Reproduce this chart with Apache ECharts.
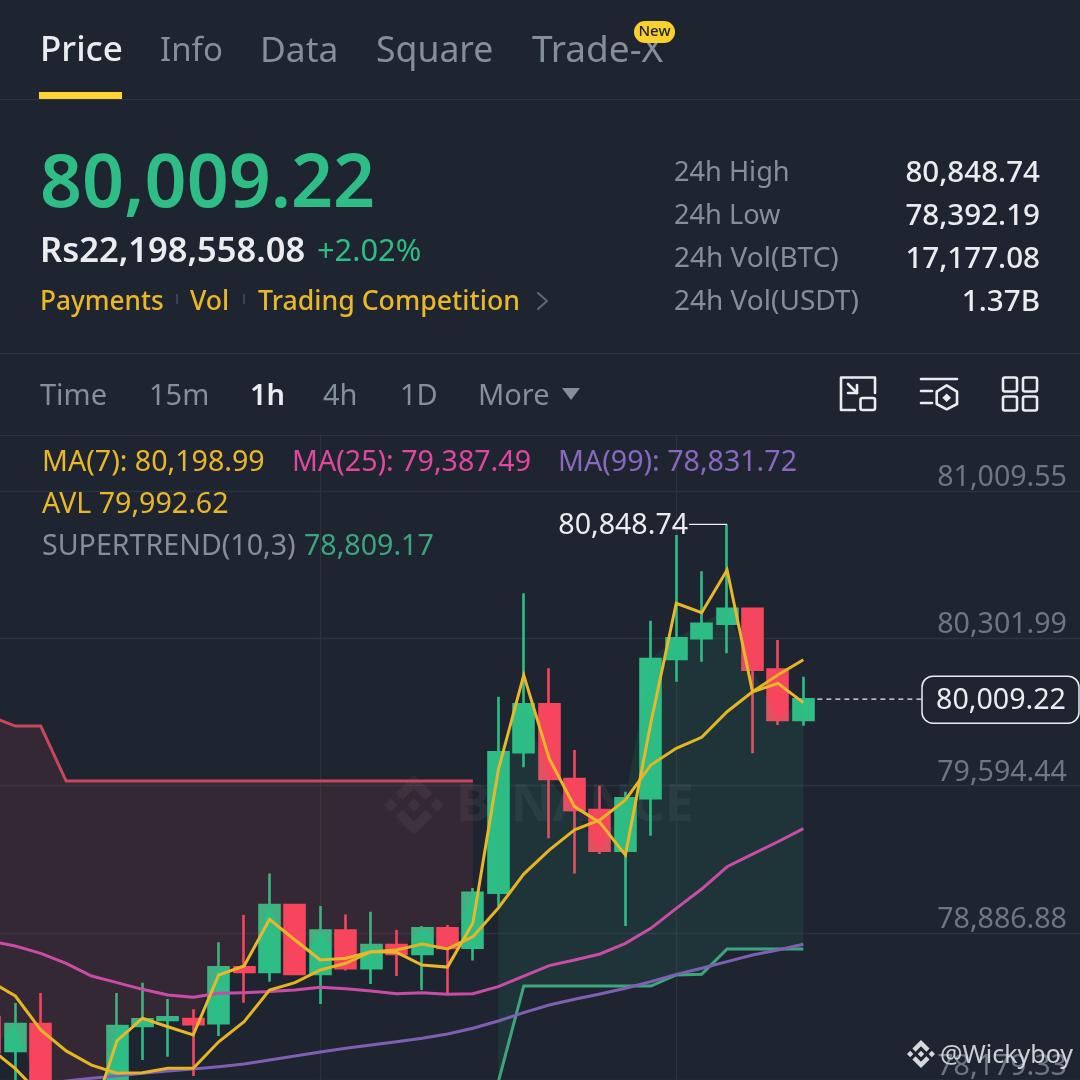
<!DOCTYPE html>
<html><head><meta charset="utf-8">
<style>html,body{margin:0;padding:0;background:#1E2530}#c{width:1080px;height:1080px}</style>
<script src="https://cdn.jsdelivr.net/npm/echarts@6/dist/echarts.min.js"></script>
</head><body><div id="c"></div>
<script>
const slots = 44;
const yTicks = [78179.33, 78886.88, 79594.44, 80301.99, 81009.55];
// [open, close, low, high]
const candles = [
[78482,78314,78275,78540],[78319,78448,78155,78549],[78448,78107,78059,78597],[78107,77987,77939,78131],
[77987,78035,77900,78131],[78035,78439,77990,78597],[78439,78471,78275,78647],[78468,78481,78291,78569],
[78472,78448,78199,78519],[78452,78721,78391,78841],[78721,78698,78551,78972],[78698,79020,78652,79172],
[79020,78689,78689,79025],[78689,78897,78545,79015],[78897,78716,78705,78975],[78716,78828,78641,78988],
[78828,78785,78679,78900],[78785,78908,78612,78919],[78908,78814,78597,78924],[78815,79079,78753,79102],
[79079,79754,79015,80021],[79754,79985,79682,80518],[79985,79626,79341,80158],[79626,79477,79172,79765],
[79477,79281,79265,79593],[79281,79533,78919,79565],[79533,80202,79353,80386],[80202,80302,80093,80798],
[80302,80372,80189,80624],[80372,80443,80230,80848.74],[80443,80151,79749,80443],[80151,79909,79885,80294],
[79909,80009.22,79882,80117]];
const avl = [78333,78234,78107,77987,77998,78368,78476,78435,78396,78684,78727,78951,78852,78756,78764,78796,78793,78732,78722,78934,79669,80125,79725,79493,79416,79260,79895,80470,80425,80630,80045,80085,79992.62];
const ma7 = [78655,78583,78420,78319,78251,78212,78214,78236,78236,78363,78459,78612,78647,78708,78740,78796,78804,78833,78809,78868,79006,79169,79284,79381,79429,79525,79693,79773,79826,79949,80045,80125,80198.99];
const ma25 = [78847,78823,78788,78740,78679,78647,78615,78588,78577,78596,78599,78604,78612,78625,78618,78607,78594,78599,78591,78594,78628,78679,78729,78756,78785,78836,78908,79004,79097,79204,79265,79324,79387.49];
const ma99 = [78131,78141,78155,78175,78188,78199,78212,78223,78232,78243,78256,78275,78295,78314,78332,78347,78363,78380,78400,78428,78463,78503,78540,78567,78593,78620,78652,78687,78716,78748,78780,78804,78831.72];
const superRed = [79928,79880,79880,79616,79616,79616,79616,79616,79616,79616,79616,79616,79616,79616,79616,79616,79616,79616,79616,79616];
const superGreen = [78170,78631,78631,78631,78631,78631,78631,78684,78687,78809.17,78809.17,78809.17,78809.17];
const greenStart = 20;

const F = '"Noto Sans", sans-serif';
const BG = '#1E2530', UP = '#2EBD85', DOWN = '#F6465D', GOLD = '#E9B72A', GREY = '#848E9C', WHITE = '#EAECEF';
const cats = Array.from({length: slots}, (_, i) => 'c' + i);
const closes = candles.map(c => c[1]);
const redLine = closes.map((_, i) => i < superRed.length ? superRed[i] : '-');
const greenLine = closes.map((_, i) => i >= greenStart ? superGreen[i - greenStart] : '-');
const redBase = closes.map((c, i) => i < superRed.length ? c : '-');
const redBand = closes.map((c, i) => i < superRed.length ? superRed[i] - c : '-');
const greenBase = greenLine;
const greenBand = closes.map((c, i) => i >= greenStart ? c - superGreen[i - greenStart] : '-');
const highIndex = 29, lastIndex = candles.length - 1;

function line(name, data, color, w) {
  return {name, type:'line', data, symbol:'none', z:5, silent:true,
    lineStyle:{color, width:w||3, join:'miter'}, animation:false};
}
function bandBase(stack, data) {
  return {type:'line', stack, data, symbol:'none', z:3, silent:true, lineStyle:{width:0, opacity:0}, animation:false};
}
function band(stack, data, color) {
  return {type:'line', stack, data, symbol:'none', z:3, silent:true, lineStyle:{width:0, opacity:0}, areaStyle:{color, opacity:1}, animation:false};
}
function T(text, x, y, size, fill, weight, align) {
  return {type:'text', z:20, silent:true, style:{text, x, y:y+1.5, fill, align:align||'left', verticalAlign:'middle',
    font:(weight||400)+' '+size+'px '+F}};
}
function R(x, y, w, h, fill, r) {
  return {type:'rect', z:20, silent:true, shape:{x, y, width:w, height:h, r:r||0}, style:{fill}};
}
function P(points, stroke, w, closed) {
  return {type:closed?'polygon':'polyline', z:20, silent:true, shape:{points},
    style:{stroke, lineWidth:w||2.6, fill:null, lineJoin:'round', lineCap:'round'}};
}
function box(x, y, w, h, r) {
  return {type:'rect', z:20, silent:true, shape:{x, y, width:w, height:h, r:r||0},
    style:{stroke:WHITE, lineWidth:2.6, fill:null}};
}
const logoPath = 'M16.624 13.9202l2.7175 2.7154-7.353 7.353-7.353-7.352 2.7175-2.7164 4.6355 4.6595 4.6356-4.6595zm4.6366-4.6366L24 12l-2.7154 2.7164L18.5682 12l2.6924-2.7164zm-9.272.001l2.7163 2.6914-2.7164 2.7174v-.001L9.2721 12l2.7164-2.7154zm-9.2722-.001L5.4088 12l-2.6914 2.6924L0 12l2.7164-2.7164zM11.9885.0115l7.353 7.329-2.7174 2.7154-4.6356-4.6356-4.6355 4.6595-2.7174-2.7154 7.353-7.353z';
const graphics = [
  T('Price',40,50,35,WHITE,500), T('Info',160,50,33,GREY), T('Data',260,50,35.4,GREY), T('Square',376,50,35.6,GREY), T('Trade-X',532,50,37,GREY),
  R(634,21,41,22,'#F8D12F',11), T('New',654.5,30.5,15,'#1E2329',500,'center'),
  R(39,92,83,7,'#FCD535',0), R(0,99,1080,1,'#2B3340'),
  T('80,009.22',40,185,73.5,UP,600),
  T('Rs22,198,558.08',40,251,34.5,WHITE,600), T('+2.02%',317,251,30.8,UP,400),
  T('Payments',40,301,26.2,GOLD,500), T('Vol',190,301,26.6,GOLD,500), T('Trading Competition',258,301,26.7,GOLD,500),
  R(176,294,2,10,'#3A4350'), R(243,294,2,10,'#3A4350'),
  P([[538,293],[547,301],[538,309]],'#5E6673',2.2),
  T('24h High',674,172,27.2,GREY), T('24h Low',674,215,27.2,GREY), T('24h Vol(BTC)',674,258,28,GREY), T('24h Vol(USDT)',674,301,28,GREY),
  T('80,848.74',1040,172,29.6,WHITE,500,'right'), T('78,392.19',1040,215,29.6,WHITE,500,'right'),
  T('17,177.08',1040,258,29.6,WHITE,500,'right'), T('1.37B',1040,301,29.6,WHITE,500,'right'),
  R(0,353,1080,1,'#2B3340'),
  T('Time',40,395,29,GREY), T('15m',149,395,29,GREY), T('1h',250,395,29,WHITE,600), T('4h',323,395,29,GREY), T('1D',400,395,29,GREY), T('More',478,395,29,GREY),
  {type:'polygon',z:20,silent:true,shape:{points:[[562,388],[580,388],[571,400]]},style:{fill:GREY}},
  P([[855,410],[841,410],[841,377.5],[875,377.5],[875,393]],WHITE),
  box(860.5,398,14.5,12,2),
  P([[848,384],[857,393]],WHITE), P([[857,385],[857,393],[848,393]],WHITE),
  P([[921,379],[957,379]],WHITE), P([[921,391],[932,391]],WHITE), P([[921,403],[932,403]],WHITE),
  P([[946.7,385.3],[957,391.7],[957,404],[946.7,409.3],[936.7,404],[936.7,391.7]],WHITE,2.6,true),
  {type:'polygon',z:20,silent:true,shape:{points:[[946.7,393.5],[951,397.7],[946.7,402],[942.4,397.7]]},style:{fill:WHITE}},
  box(1003,377.5,14,14,2), box(1023,377.5,14,14,2), box(1003,396.5,14,14,2), box(1023,396.5,14,14,2),
  R(0,435,1080,1,'#2B3340'),
  T('MA(7): 80,198.99',42,461,28.6,GOLD), T('MA(25): 79,387.49',292,461,28.6,'#E0489F'), T('MA(99): 78,831.72',558,461,28.6,'#8A68C0'),
  T('AVL 79,992.62',42,503,28.6,GOLD), T('SUPERTREND(10,3)',42,545,28.6,GREY), T('78,809.17',304,545,28.6,'#3CA57E'),
  {type:'text',z:1,silent:true,style:{text:'BINANCE',x:456,y:806,align:'left',verticalAlign:'middle',font:'700 52px '+F,fill:'rgba(255,255,255,0.05)'}},
  T('@Wickyboy',940,1054,25,'rgba(234,236,239,0.85)'),
];
function logoSeries(z, x, y, size, fill) {
  return {type:'custom', z, silent:true, animation:false, data:[[0]], clip:false,
    renderItem:()=>({type:'path', shape:{pathData:logoPath, x, y, width:size, height:size, layout:'center'}, style:{fill}})};
}
const option = {
  backgroundColor: BG, animation:false,
  textStyle:{fontFamily:F},
  grid:{left:-22.8, width:slots*25.42, top:435, height:645, containLabel:false, outerBoundsMode:'none'},
  xAxis:{type:'category', data:cats, boundaryGap:true, axisLine:{show:false}, axisTick:{show:false}, axisLabel:{show:false}, splitLine:{show:false}},
  yAxis:{type:'value', position:'right', min:78179.33, max:81278.62,
    axisLine:{show:false}, axisTick:{show:false, customValues:yTicks},
    axisLabel:{inside:true, margin:28.7, customValues:yTicks, verticalAlign:'bottom', showMinLabel:true, showMaxLabel:true, color:'#6D7684', fontSize:28.6, fontFamily:F, lineHeight:26,
      formatter:v=>v.toLocaleString('en-US',{minimumFractionDigits:2,maximumFractionDigits:2})},
    splitLine:{show:true, lineStyle:{color:'#2C333D', width:1.3}}},
  graphic:{elements:graphics},
  series:[
    {type:'line', data:[], z:1, silent:true, symbol:'none', animation:false,
      markLine:{silent:true, symbol:'none', label:{show:false}, animation:false, z:1,
        lineStyle:{color:'#2C333D', type:'solid', width:1.3},
        data:[{xAxis:cats[13]},{xAxis:cats[27]}]}},
    {type:'candlestick', data:candles, z:2, barWidth:20.5, silent:true, animation:false,
      itemStyle:{color:UP, color0:DOWN, borderColor:UP, borderColor0:DOWN, borderColorDoji:UP, borderWidth:2.6}},
    logoSeries(3,384,775,60,'rgba(255,255,255,0.05)'),
    logoSeries(30,907,1040,28,'rgba(234,236,239,0.9)'),
    bandBase('r',redBase), band('r',redBand,'rgba(246,70,93,0.10)'),
    bandBase('g',greenBase), band('g',greenBand,'rgba(46,189,133,0.10)'),
    line('SupertrendRed',redLine,'#C8485A'),
    line('SupertrendGreen',greenLine,'#3CA57E'),
    line('MA99',ma99,'#7E5FB3'),
    line('MA25',ma25,'#C94CA6'),
    line('MA7',ma7,'#E5B323'),
    line('AVL',avl,'#E9B72A'),
    {type:'custom', z:8, silent:true, data:[[highIndex,candles[highIndex][3],candles[lastIndex][1],lastIndex]], animation:false,
      encode:{x:0,y:1},
      renderItem:(params,api)=>{
        const hi = api.coord([api.value(0),api.value(1)]);
        const last = api.coord([api.value(3),api.value(2)]);
        const val = candles[lastIndex][1].toLocaleString('en-US',{minimumFractionDigits:2});
        const hiTxt = candles[highIndex][3].toLocaleString('en-US',{minimumFractionDigits:2});
        return {type:'group',children:[
          {type:'line',shape:{x1:hi[0]-38,y1:hi[1],x2:hi[0],y2:hi[1]},style:{stroke:WHITE,lineWidth:1.3}},
          {type:'text',style:{text:hiTxt,x:hi[0]-39,y:hi[1]+1,align:'right',verticalAlign:'middle',fill:WHITE,font:'400 28.6px '+F}},
          {type:'line',shape:{x1:last[0]+14,y1:last[1],x2:922,y2:last[1]},style:{stroke:WHITE,lineWidth:1.3,lineDash:[5,4]}},
          {type:'rect',shape:{x:922,y:last[1]-23,width:157,height:47,r:11},style:{fill:BG,stroke:WHITE,lineWidth:1.5}},
          {type:'text',style:{text:val,x:1001,y:last[1]+2,align:'center',verticalAlign:'middle',fill:WHITE,font:'400 28.6px '+F}}
        ]};
      }}
  ]
};
const chart = echarts.init(document.getElementById('c'), null, {renderer:'canvas', width:1080, height:1080});
chart.setOption(option);
</script></body></html>
